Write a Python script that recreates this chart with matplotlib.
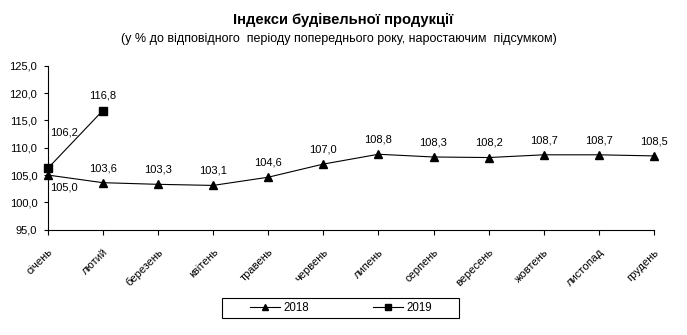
import matplotlib
matplotlib.use("Agg")
import matplotlib.pyplot as plt
from matplotlib.patches import Rectangle
from matplotlib.ticker import FuncFormatter

plt.rcParams["font.family"] = ["Liberation Sans", "DejaVu Sans"]

months = ["січень", "лютий", "березень", "квітень", "травень", "червень",
          "липень", "серпень", "вересень", "жовтень", "листопад", "грудень"]
idx_2018 = [105.0, 103.6, 103.3, 103.1, 104.6, 107.0, 108.8, 108.3, 108.2, 108.7, 108.7, 108.5]
idx_2019 = [106.2, 116.8]

W, H = 687, 335
fig = plt.figure(figsize=(W / 100, H / 100), dpi=100)
ax = fig.add_axes([47.7 / W, 105.3 / H, (654 - 47.7) / W, 164.0 / H])

x18 = list(range(len(idx_2018)))
x19 = list(range(len(idx_2019)))
l18, = ax.plot(x18, idx_2018, color="black", lw=0.8, marker="^", ms=5.5, label="2018", clip_on=False)
l19, = ax.plot(x19, idx_2019, color="black", lw=0.8, marker="s", ms=5.5, label="2019", clip_on=False)

def fmt(v):
    return f"{v:.1f}".replace(".", ",")

for i, v in enumerate(idx_2018):
    if i == 0:
        ax.annotate(fmt(v), (i, v), xytext=(2, -9), textcoords="offset points",
                    ha="left", va="center", fontsize=8)
    else:
        ax.annotate(fmt(v), (i, v), xytext=(0, 10.5), textcoords="offset points",
                    ha="center", va="center", fontsize=8)
for i, v in enumerate(idx_2019):
    if i == 0:
        ax.annotate(fmt(v), (i, v), xytext=(2, 26), textcoords="offset points",
                    ha="left", va="center", fontsize=8)
    else:
        ax.annotate(fmt(v), (i, v), xytext=(0, 11), textcoords="offset points",
                    ha="center", va="center", fontsize=8)

ax.set_xlim(0, len(months) - 1)
ax.set_ylim(95, 125)
ax.set_yticks(range(95, 126, 5))
ax.yaxis.set_major_formatter(FuncFormatter(lambda v, p: fmt(v)))
ax.set_xticks(x18)
ax.set_xticklabels(months, rotation=45, ha="right", rotation_mode="anchor", fontsize=8)
ax.tick_params(axis="x", length=3.5, width=0.8, pad=9, direction="out")
ax.tick_params(axis="y", length=3, width=0.8, pad=4.5, labelsize=8, direction="out")
for s in ("top", "right"):
    ax.spines[s].set_visible(False)
for s in ("left", "bottom"):
    ax.spines[s].set_linewidth(0.8)

fig.text(343 / W, 1 - 20 / H, "Індекси будівельної продукції", ha="center", va="center",
         fontsize=10.6, fontweight="bold")
fig.text(339 / W, 1 - 39 / H,
         "(у % до відповідного  періоду попереднього року, наростаючим  підсумком)",
         ha="center", va="center", fontsize=9)

# legend box drawn separately so the padding matches the wide frame
fig.patches.append(Rectangle((221.7 / W, 16.7 / H), 237.3 / W, 20.6 / H,
                             transform=fig.transFigure, fill=False, ec="black", lw=0.8))
fig.legend(handles=[l18, l19], loc="center", bbox_to_anchor=(341 / W, 27 / H),
           ncol=2, frameon=False, fontsize=8.3, handlelength=2.6, handletextpad=0.3,
           columnspacing=5.5, borderpad=0, markerscale=0.85)

fig.savefig("out.png", dpi=100, facecolor="white")
